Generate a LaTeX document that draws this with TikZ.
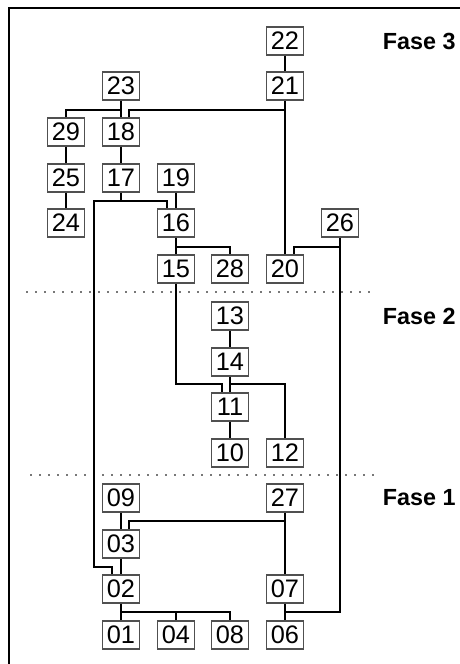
\documentclass[tikz,border=0pt]{standalone}
\usepackage{fontspec}
\setmainfont{Liberation Sans}
\tikzset{every picture/.style={line width=0.75pt}}
\tikzset{
  unit/.style={draw={rgb,255:red,80;green,80;blue,80},fill=white,line width=1pt,minimum width=27.5pt,minimum height=21pt,inner sep=0pt,font=\fontsize{19}{20}\selectfont},
  link/.style={draw=black,line width=1.6pt},
  phase/.style={anchor=west,font=\fontsize{17.5}{20}\selectfont\bfseries},
  cut/.style={draw={rgb,255:red,120;green,120;blue,120},line width=1.5pt,dash pattern=on 1.5pt off 5.25pt}
}
\begin{document}
\begin{tikzpicture}[x=0.75pt,y=0.75pt,yscale=-1,xscale=1]
	\useasboundingbox (0,0) rectangle (460,664);

	%Frame
	\draw [line width=1pt] (9,670) -- (9,8) -- (470,8) ;

	%Phase limits
	\draw [cut] (26,292) -- (373,292) ;
	\draw [cut] (30,475) -- (378,475) ;

	% Units, Fase 3
	\node [unit] (u22) at (285,41) {22};
	\node [unit] (u23) at (121,86) {23};
	\node [unit] (u21) at (285,86) {21};
	\node [unit] (u29) at (66,132) {29};
	\node [unit] (u18) at (121,132) {18};
	\node [unit] (u25) at (66,178) {25};
	\node [unit] (u17) at (121,178) {17};
	\node [unit] (u19) at (176,178) {19};
	\node [unit] (u24) at (66,223) {24};
	\node [unit] (u16) at (176,223) {16};
	\node [unit] (u26) at (340,223) {26};
	\node [unit] (u15) at (176,269) {15};
	\node [unit] (u28) at (230,269) {28};
	\node [unit] (u20) at (285,269) {20};
	% Units, Fase 2
	\node [unit] (u13) at (230,316) {13};
	\node [unit] (u14) at (230,362) {14};
	\node [unit] (u11) at (230,407) {11};
	\node [unit] (u10) at (230,453) {10};
	\node [unit] (u12) at (285,453) {12};
	% Units, Fase 1
	\node [unit] (u09) at (121,498) {09};
	\node [unit] (u27) at (285,498) {27};
	\node [unit] (u03) at (121,544) {03};
	\node [unit] (u02) at (121,589) {02};
	\node [unit] (u07) at (285,589) {07};
	\node [unit] (u01) at (121,635) {01};
	\node [unit] (u04) at (176,635) {04};
	\node [unit] (u08) at (230,635) {08};
	\node [unit] (u06) at (285,635) {06};

	% Phase labels
	\node [phase] (f3) at (378,41) {Fase 3};
	\node [phase] (f2) at (378,316) {Fase 2};
	\node [phase] (f1) at (378,498) {Fase 1};

	% Junctions
	\coordinate (j23) at (121,110);
	\coordinate (j21) at (285,110);
	\coordinate (j17) at (121,201);
	\coordinate (k02) at (94,567);
	\coordinate (j16) at (176,247);
	\coordinate (j26) at (340,247);
	\coordinate (j15) at (176,384);
	\coordinate (j14) at (230,384);
	\coordinate (j27) at (285,521);
	\coordinate (j02) at (121,612);
	\coordinate (j06) at (285,612);

	% Links
	\draw [link] (u22) -- (u21) ;
	\draw [link] (u21) -- (u20) ;
	\draw [link] (j21) -| ([xshift=6pt]u18.north) ;
	\draw [link] (u23) -- (u18) ;
	\draw [link] (j23) -| (u29) ;
	\draw [link] (u29) -- (u25) ;
	\draw [link] (u25) -- (u24) ;
	\draw [link] (u18) -- (u17) ;
	\draw [link] (u17) -- (j17) -| ([xshift=-7pt]u16.north) ;
	\draw [link] (j17) -| (k02) -| ([xshift=-7pt]u02.north) ;
	\draw [link] (u19) -- (u16) ;
	\draw [link] (u16) -- (u15) ;
	\draw [link] (j16) -| (u28) ;
	\draw [link] (u26) -- (j26) -| ([xshift=7pt]u20.north) ;
	\draw [link] (j26) |- (j06) ;
	\draw [link] (u15) -- (j15) -| ([xshift=-6pt]u11.north) ;
	\draw [link] (u13) -- (u14) ;
	\draw [link] (u14) -- (u11) ;
	\draw [link] (j14) -| (u12) ;
	\draw [link] (u11) -- (u10) ;
	\draw [link] (u27) -- (u07) ;
	\draw [link] (j27) -| ([xshift=6pt]u03.north) ;
	\draw [link] (u09) -- (u03) ;
	\draw [link] (u03) -- (u02) ;
	\draw [link] (u02) -- (u01) ;
	\draw [link] (j02) -| (u04) ;
	\draw [link] (j02) -| (u08) ;
	\draw [link] (u07) -- (u06) ;

\end{tikzpicture}
\end{document}
